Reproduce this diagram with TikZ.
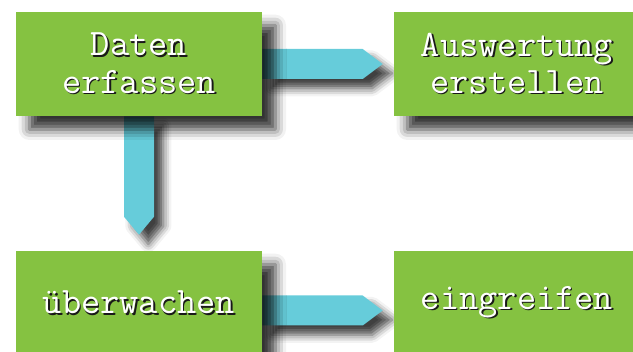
\documentclass[tikz,border=0pt]{standalone}
\usetikzlibrary{calc,shadows.blur,backgrounds}

\definecolor{kastengruen}{RGB}{133,194,65}
\definecolor{pfeilblau}{RGB}{102,204,218}

% weisse Schrift mit schwarzem Schatten
\newcommand\schrift[1]{\rlap{\kern1.1pt\raisebox{-1.1pt}{\color{black!90}#1}}{\color{white}#1}}

\tikzset{
    kasten/.style = {fill = kastengruen, minimum width = 184.5pt, minimum height = 78pt,
        inner sep = 0pt, align = center,
        font = \ttfamily\fontsize{28}{28}\selectfont,
        blur shadow = {shadow xshift = 10pt, shadow yshift = -10pt,
            shadow blur radius = 8pt, shadow opacity = 80}},
    pfeil/.style = {fill = pfeilblau,
        blur shadow = {shadow xshift = 7pt, shadow yshift = -7pt,
            shadow blur radius = 6pt, shadow opacity = 75}}
}

\begin{document}
\begin{tikzpicture}[x = 0.75pt, y = -0.75pt]
        \useasboundingbox ( 0, 0 ) rectangle ( 633, 352 );
        \clip ( 0, 0 ) rectangle ( 633, 352 );

        % Masse der Pfeile
        \def \B { 15 };
        \def \S { 20 };
        \def \L { 11 };

        % Kaesten
        \node [kasten] (erfassen) at ( 139, 64 ) {\schrift{Daten}\\\schrift{erfassen}};
        \node [kasten] (auswertung) at ( 517, 64 ) {\schrift{Auswertung}\\\schrift{erstellen}};
        \node [kasten] (ueberwachen) at ( 139, 303 ) {\schrift{überwachen}};
        \node [kasten] (eingreifen) at ( 517, 303 ) {\schrift{eingreifen}};

        % Pfeile
        \begin{pgfonlayer}{background}
            \path [pfeil] ($(erfassen.east)+(0,-\B)$) -- ($(auswertung.west)+(-\L-\S,-\B)$)
                -- ($(auswertung.west)+(-\L,0)$) -- ($(auswertung.west)+(-\L-\S,\B)$)
                -- ($(erfassen.east)+(0,\B)$) -- cycle;
            \path [pfeil] ($(erfassen.south)+(-\B,0)$) -- ($(ueberwachen.north)+(-\B,-34)$)
                -- ($(ueberwachen.north)+(0,-16)$) -- ($(ueberwachen.north)+(\B,-34)$)
                -- ($(erfassen.south)+(\B,0)$) -- cycle;
            \path [pfeil] ($(ueberwachen.east)+(0,7.5-\B)$) -- ($(eingreifen.west)+(-\L-\S,7.5-\B)$)
                -- ($(eingreifen.west)+(-\L,7.5)$) -- ($(eingreifen.west)+(-\L-\S,7.5+\B)$)
                -- ($(ueberwachen.east)+(0,7.5+\B)$) -- cycle;
        \end{pgfonlayer}
\end{tikzpicture}
\end{document}
